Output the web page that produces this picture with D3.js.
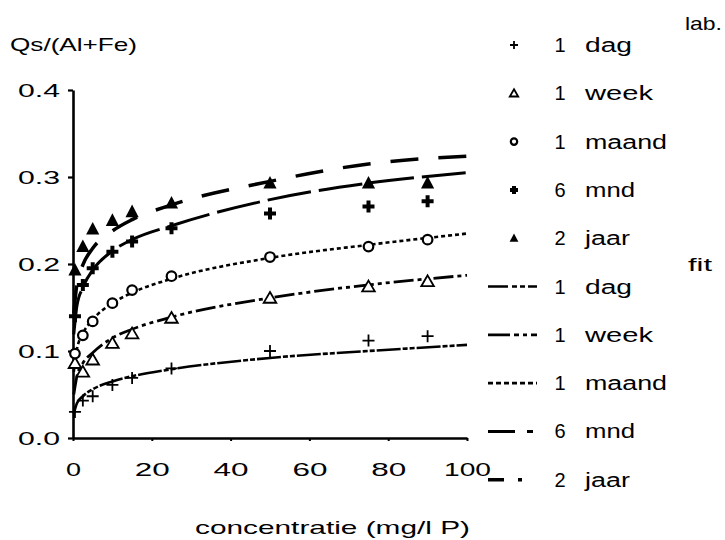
<!DOCTYPE html>
<html>
<head>
<meta charset="utf-8">
<script src="https://cdn.jsdelivr.net/npm/d3@7"></script>
<style>
  body { margin: 0; background: #fff; }
  svg { display: block; }
  text { font-family: "Liberation Sans", Arial, sans-serif; fill: #000; }
</style>
</head>
<body>
<div id="chart"></div>
<script>
// measured points (lab.)
const conc = [0.5, 2.5, 5, 10, 15, 25, 50, 75, 90];
const dag = [0.03, 0.043, 0.048, 0.061, 0.069, 0.08, 0.1, 0.112, 0.117];
const week = [0.086, 0.076, 0.09, 0.109, 0.12, 0.138, 0.161, 0.174, 0.18];
const maand = [0.097, 0.118, 0.134, 0.155, 0.17, 0.186, 0.208, 0.22, 0.228];
const mnd6 = [0.14, 0.176, 0.195, 0.214, 0.226, 0.241, 0.258, 0.266, 0.272];
const jaar2 = [0.193, 0.22, 0.24, 0.25, 0.26, 0.27, 0.293, 0.293, 0.293];

// fitted curves
const fitConc = [0.2, 1, 2.5, 5, 10, 15, 25, 50, 75, 100];
const fitDag = [0.028, 0.04, 0.048, 0.056, 0.065, 0.071, 0.079, 0.092, 0.1, 0.107];
const fitWeek = [0.05, 0.071, 0.086, 0.098, 0.115, 0.125, 0.139, 0.161, 0.176, 0.187];
const fitMaand = [0.076, 0.102, 0.12, 0.136, 0.155, 0.167, 0.183, 0.207, 0.222, 0.235];
const fitMnd6 = [0.119, 0.152, 0.173, 0.193, 0.215, 0.228, 0.244, 0.274, 0.293, 0.305];
const fitJaar2 = [0.143, 0.177, 0.199, 0.218, 0.238, 0.251, 0.268, 0.295, 0.315, 0.324];

const durations = ["1", "1", "1", "6", "2"];
const units = ["dag", "week", "maand", "mnd", "jaar"];
const xTicks = [0, 20, 40, 60, 80, 100];
const yTicks = [0.0, 0.1, 0.2, 0.3, 0.4];

const width = 725, height = 540;
const svg = d3.select("#chart").append("svg")
  .attr("width", width)
  .attr("height", height);

const x = d3.scaleLinear().domain([0, 100]).range([73, 467]);
const y = d3.scaleLinear().domain([0, 0.4]).range([438, 90]);

// axes
const yAxis = svg.append("g")
  .attr("transform", `translate(${x(0)},0)`)
  .call(d3.axisLeft(y).tickValues(yTicks).tickFormat(d3.format(".1f")).tickSize(5).tickSizeOuter(0));
yAxis.select(".domain").attr("stroke-width", 2.6);
yAxis.selectAll(".tick line").attr("stroke-width", 2.2);
yAxis.selectAll(".tick text")
  .attr("x", -13)
  .attr("font-size", 19)
  .attr("textLength", 42)
  .attr("lengthAdjust", "spacingAndGlyphs");

const xAxis = svg.append("g")
  .attr("transform", `translate(0,${y(0)})`)
  .call(d3.axisBottom(x).tickValues(xTicks).tickSize(3).tickSizeOuter(0));
xAxis.select(".domain").attr("stroke-width", 2.6);
xAxis.selectAll(".tick line").attr("stroke-width", 2);
xAxis.selectAll(".tick text")
  .attr("y", 25)
  .attr("font-size", 19)
  .attr("textLength", d => d === 100 ? 47 : d === 0 ? 15 : 35)
  .attr("lengthAdjust", "spacingAndGlyphs");

// axis titles and side labels
svg.append("text").attr("x", 10).attr("y", 51).attr("font-size", 19)
  .attr("textLength", 127).attr("lengthAdjust", "spacingAndGlyphs").text("Qs/(Al+Fe)");
svg.append("text").attr("x", 195).attr("y", 534).attr("font-size", 19)
  .attr("textLength", 275).attr("lengthAdjust", "spacingAndGlyphs").text("concentratie (mg/l P)");
svg.append("text").attr("x", 685).attr("y", 30).attr("font-size", 19)
  .attr("textLength", 37).attr("lengthAdjust", "spacingAndGlyphs").text("lab.");
svg.append("text").attr("x", 688).attr("y", 271).attr("font-size", 19)
  .attr("textLength", 24).attr("lengthAdjust", "spacingAndGlyphs").text("fit");

// fit lines
const fits = [fitDag, fitWeek, fitMaand, fitMnd6, fitJaar2];
const fitStyle = [
  { dash: "24,2,5,2,5,2", w: 2.6, legendDash: "20,4,5,3,5,3" },
  { dash: "20,4,4,4,4,4", w: 2.8, legendDash: "22,4,5,4,4,4" },
  { dash: "4,3", w: 2.6, legendDash: "5,3" },
  { dash: "44,8", w: 3, legendDash: "27,12,6,20" },
  { dash: "28,20", w: 3.5, legendDash: "16,14,4,20" }
];

const line = d3.line()
  .x((d, i) => x(fitConc[i]))
  .y(d => y(d))
  .curve(d3.curveMonotoneX);

svg.selectAll(".fit")
  .data(fits)
  .join("path")
  .attr("class", "fit")
  .attr("d", line)
  .attr("fill", "none")
  .attr("stroke", "#000")
  .attr("stroke-width", (d, i) => fitStyle[i].w)
  .attr("stroke-dasharray", (d, i) => fitStyle[i].dash);

// markers
const series = [dag, week, maand, mnd6, jaar2];
function drawMarker(g, k, s) {
  if (k === 0) {
    g.append("path").attr("d", `M${-s},0H${s}M0,${-s}V${s}`)
      .attr("stroke", "#000").attr("stroke-width", 1.8);
  } else if (k === 1) {
    g.append("path").attr("d", `M0,${-s}L${s * 1.05},${s * 0.8}L${-s * 1.05},${s * 0.8}Z`)
      .attr("fill", "#fff").attr("stroke", "#000").attr("stroke-width", 1.8);
  } else if (k === 2) {
    g.append("circle").attr("r", s * 0.8)
      .attr("fill", "#fff").attr("stroke", "#000").attr("stroke-width", 2.2);
  } else if (k === 3) {
    g.append("path").attr("d", `M${-s},0H${s}M0,${-s}V${s}`)
      .attr("stroke", "#000").attr("stroke-width", 4);
  } else {
    g.append("path").attr("d", `M0,${-s * 1.2}L${s * 1.1},${s * 0.9}L${-s * 1.1},${s * 0.9}Z`)
      .attr("fill", "#000");
  }
}

series.forEach((vals, k) => {
  vals.forEach((v, i) => {
    const g = svg.append("g").attr("transform", `translate(${x(conc[i])},${y(v)})`);
    drawMarker(g, k, 6);
  });
});

// legend
const rowY = d3.range(10).map(i => 45 + i * 48.3);
units.forEach((u, k) => {
  const g = svg.append("g").attr("transform", `translate(514,${rowY[k]})`);
  drawMarker(g, k, 4);
});
units.forEach((u, k) => {
  svg.append("line")
    .attr("x1", 488).attr("x2", 537)
    .attr("y1", rowY[k + 5]).attr("y2", rowY[k + 5])
    .attr("stroke", "#000")
    .attr("stroke-width", fitStyle[k].w)
    .attr("stroke-dasharray", fitStyle[k].legendDash);
});
const unitWidth = { dag: 47, week: 68, maand: 82, mnd: 50, jaar: 45 };
rowY.forEach((ry, r) => {
  const k = r % 5;
  svg.append("text").attr("x", 560).attr("y", ry + 7).attr("font-size", 20)
    .attr("text-anchor", "middle").text(durations[k]);
  svg.append("text").attr("x", 585).attr("y", ry + 7).attr("font-size", 20)
    .attr("textLength", unitWidth[units[k]]).attr("lengthAdjust", "spacingAndGlyphs")
    .text(units[k]);
});
</script>
</body>
</html>
